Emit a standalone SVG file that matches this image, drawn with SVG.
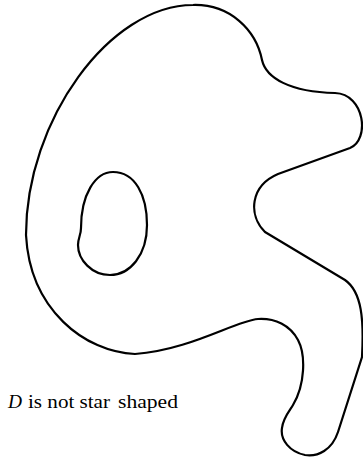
<svg xmlns="http://www.w3.org/2000/svg" width="363" height="457" viewBox="0 0 363 457">
<style>
.curve{fill:none;stroke:#000;stroke-width:2.2;stroke-linejoin:round}
.lbl{font-family:"Liberation Serif",serif;font-size:18px;fill:#000}
</style>
<rect width="363" height="457" fill="#fff"/>
<g id="outer">
<path class="curve" d="M193,5 C230,4 256,30 262,60 C266,78 290,92 335,93 C365,94 370,140 350,148 L278,174 C250,186 248,215 265,232 L345,280 C362,292 364,320 362,357 L338,432 C332,450 318,457 305,455 C290,452 280,440 282,428 C283,418 290,410 293,405 C305,385 306,355 298,340 C290,325 275,318 258,319 C235,321 190,350 135,354 C85,352 30,310 26,235 C26,120 110,5 193,5 Z"/>
</g>
<g id="hole">
<path class="curve" d="M113,172 C135,172 147,195 147,225 C147,255 130,275 110,275 C92,275 78,260 78,245 C78,238 81,235 81,228 C81,195 95,172 113,172 Z"/>
</g>
<g id="label">
<text class="lbl" y="408"><tspan x="8" font-style="italic" textLength="14" lengthAdjust="spacingAndGlyphs">D</tspan><tspan x="28" textLength="82" lengthAdjust="spacingAndGlyphs">is not star</tspan><tspan x="118" textLength="60" lengthAdjust="spacingAndGlyphs">shaped</tspan></text>
</g>
</svg>
